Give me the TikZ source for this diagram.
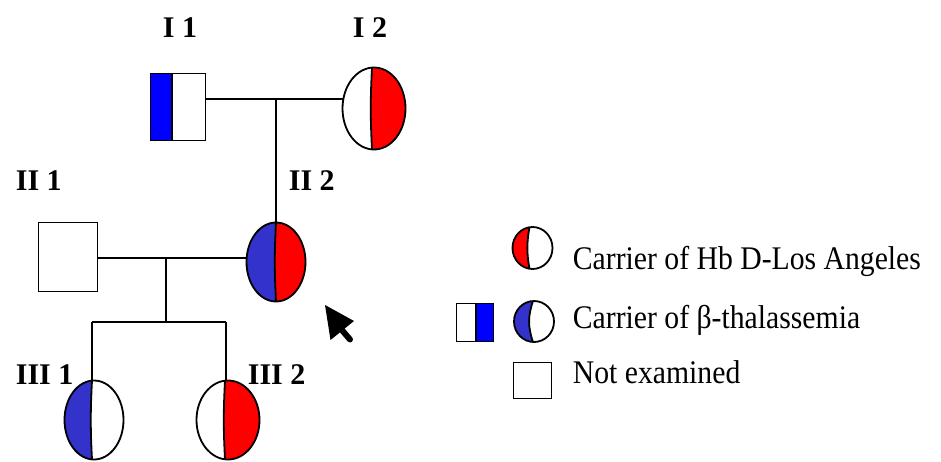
\documentclass[tikz,border=0pt]{standalone}
\usepackage{fontspec}
\usepackage{graphicx}
\setmainfont{Liberation Serif}
\usetikzlibrary{shapes.geometric,calc}
\definecolor{thalblue}{RGB}{51,51,204}
\definecolor{pureblue}{RGB}{0,0,255}
\definecolor{hbred}{RGB}{255,0,0}
\newcommand\legendtext[1]{\fontsize{33}{36}\selectfont\scalebox{0.9}[1]{#1}}
\begin{document}
\begin{tikzpicture}[x=1pt,y=-1pt,line width=1.8pt,
  person/.style={draw=black,fill=white,inner sep=0pt,outer sep=0pt},
  female/.style={person,ellipse},
  male/.style={person,rectangle},
  % ellipse split into a left and a right colour by a slightly bent line;
  % args: left colour, right colour, bend angle, horizontal shift of the split
  split/.style n args={4}{path picture={
    \fill[#1] ([xshift=#4]path picture bounding box.north) to[bend right=#3]
      ([xshift=#4]path picture bounding box.south)
      -- (path picture bounding box.south west) -- (path picture bounding box.north west) -- cycle;
    \fill[#2] ([xshift=#4]path picture bounding box.north) to[bend right=#3]
      ([xshift=#4]path picture bounding box.south)
      -- (path picture bounding box.south east) -- (path picture bounding box.north east) -- cycle;
    \draw ([xshift=#4]path picture bounding box.north) to[bend right=#3]
      ([xshift=#4]path picture bounding box.south);}},
  % square with a coloured band on its left or right side
  bandleft/.style 2 args={path picture={
    \fill[#1] (path picture bounding box.north west) rectangle
      ($(path picture bounding box.south west)!#2!(path picture bounding box.south east)$);
    \draw ($(path picture bounding box.north west)!#2!(path picture bounding box.north east)$) --
      ($(path picture bounding box.south west)!#2!(path picture bounding box.south east)$);}},
  bandright/.style 2 args={path picture={
    \fill[#1] ($(path picture bounding box.north west)!#2!(path picture bounding box.north east)$)
      rectangle (path picture bounding box.south east);
    \draw ($(path picture bounding box.north west)!#2!(path picture bounding box.north east)$) --
      ($(path picture bounding box.south west)!#2!(path picture bounding box.south east)$);}},
  gen/.style={anchor=base west,inner sep=0pt,font=\bfseries\fontsize{30}{32}\selectfont},
  legend/.style={anchor=base west,inner sep=0pt}
]
\useasboundingbox (0,0) rectangle (941,462);

% generation I
\node[male,minimum width=55pt,minimum height=67pt,bandleft={pureblue}{0.39}] (I1) at (178,107) {};
\node[female,minimum width=63pt,minimum height=82pt,split={white}{hbred}{3}{-2pt}] (I2) at (374,108.5) {};
% generation II
\node[male,minimum width=59pt,minimum height=69pt] (II1) at (68,257) {};
\node[female,minimum width=59pt,minimum height=79pt,split={thalblue}{hbred}{3}{0pt}] (II2) at (276,262) {};
% generation III
\node[female,minimum width=59pt,minimum height=79pt,split={thalblue}{white}{3}{-2pt}] (III1) at (94,420) {};
\node[female,minimum width=63pt,minimum height=79pt,split={white}{hbred}{3}{-3pt}] (III2) at (228,420) {};

% generation labels
\node[gen] (lI1) at (162,38) {I 1};
\node[gen] (lI2) at (352,38) {I 2};
\node[gen] (lII1) at (15,191) {II 1};
\node[gen] (lII2) at (288,191) {II 2};
\node[gen] (lIII1) at (15,384) {III 1};
\node[gen] (lIII2) at (247,384) {III 2};

% mating and descent lines
\coordinate (m1) at (276,99);
\coordinate (m2) at (166,258);
\coordinate (sib) at (166,322);
\coordinate (c1) at ([xshift=-2pt]III1.north);
\coordinate (c2) at ([xshift=-2pt]III2.north);
\draw (I1.east |- m1) -- (I2.west |- m1);
\draw (m1) -- (II2.north);
\draw (II1.east |- m2) -- (II2.west |- m2);
\draw (m2) -- (sib);
\draw (c1 |- sib) -- (c2 |- sib);
\draw (c1 |- sib) -- (c1);
\draw (c2 |- sib) -- (c2);

% proband pointer
\coordinate (ptrtip) at (325,305);
\coordinate (ptrl) at (330.5,340);
\coordinate (ptrr) at (354,321);
\coordinate (ptrbase) at (341,329);
\coordinate (ptrtail) at (350,339.5);
\fill[line join=miter] (ptrtip) -- (ptrl) -- (ptrr) -- cycle;
\draw[line width=6pt,line cap=round] (ptrbase) -- (ptrtail);

% legend
\node[female,minimum width=40pt,minimum height=42pt,split={hbred}{white}{10}{-3pt}] (keyhb) at (532.5,248) {};
\node[male,minimum width=37pt,minimum height=38pt,bandright={pureblue}{0.53}] (keythsq) at (475,322.5) {};
\node[female,minimum width=40pt,minimum height=41pt,split={thalblue}{white}{19}{-1pt}] (keyth) at (534,321.5) {};
\node[male,minimum width=38pt,minimum height=36pt] (keyne) at (532.5,380.5) {};
\node[legend] (thb) at (572,269) {\legendtext{Carrier of Hb D-Los Angeles}};
\node[legend] (tth) at (572,328) {\legendtext{Carrier of β-thalassemia}};
\node[legend] (tne) at (572,383) {\legendtext{Not examined}};
\end{tikzpicture}
\end{document}
